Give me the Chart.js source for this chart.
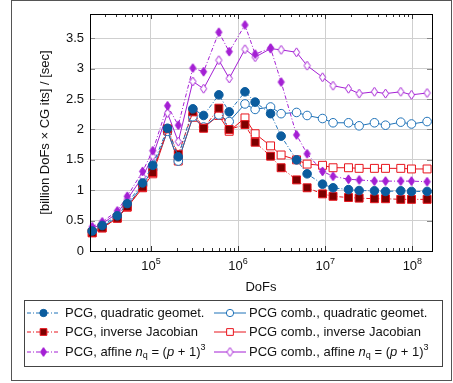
<!DOCTYPE html>
<html>
<head>
<meta charset="utf-8">
<script src="https://cdn.jsdelivr.net/npm/chart.js@4/dist/chart.umd.min.js"></script>
<style>
  html, body { margin: 0; padding: 0; background: #fff; }
  canvas { display: block; }
</style>
</head>
<body>
<canvas id="perf" width="453" height="383"></canvas>
<script>
// throughput per problem size, six solver variants
const dofs = [21200, 27600, 41100, 53500, 80300, 105000, 155000, 206000, 303000, 402000,
  602000, 791000, 1200000, 1570000, 2360000, 3120000, 4690000, 6200000, 9310000,
  12300000, 18500000, 24500000, 36700000, 49200000, 73600000, 97700000, 147600000];

const pcgQuad = [0.33, 0.42, 0.58, 0.78, 1.12, 1.41, 2.02, 1.55, 2.34, 2.23, 2.57, 2.29, 2.62, 2.45,
  2.26, 1.89, 1.50, 1.27, 1.10, 1.04, 1.01, 0.995, 0.99, 0.98, 0.99, 0.98, 0.98];
const combQuad = [0.32, 0.40, 0.55, 0.74, 1.08, 1.35, 1.97, 1.48, 2.21, 2.04, 2.24, 2.13, 2.42, 2.33,
  2.37, 2.26, 2.28, 2.23, 2.18, 2.11, 2.11, 2.06, 2.11, 2.07, 2.12, 2.09, 2.13];
const pcgInvJ = [0.30, 0.38, 0.54, 0.73, 1.05, 1.29, 2.01, 1.59, 2.29, 2.02, 2.35, 2.00, 2.08, 1.79,
  1.56, 1.37, 1.17, 1.04, 0.94, 0.90, 0.88, 0.87, 0.86, 0.86, 0.85, 0.85, 0.85];
const combInvJ = [0.30, 0.38, 0.54, 0.72, 1.04, 1.27, 1.98, 1.48, 2.20, 2.03, 2.23, 1.97, 2.19, 1.93,
  1.73, 1.58, 1.50, 1.43, 1.41, 1.37, 1.37, 1.36, 1.36, 1.36, 1.36, 1.35, 1.35];
const pcgAffine = [0.40, 0.48, 0.66, 0.90, 1.31, 1.65, 2.39, 2.07, 3.01, 2.95, 3.60, 3.28, 3.72, 3.24,
  3.34, 2.78, 1.91, 1.60, 1.31, 1.23, 1.18, 1.17, 1.15, 1.15, 1.15, 1.15, 1.14];
const combAffine = [0.37, 0.45, 0.62, 0.85, 1.22, 1.56, 2.27, 1.80, 2.79, 2.67, 3.14, 2.84, 3.32, 3.19,
  3.33, 3.31, 3.27, 3.05, 2.86, 2.72, 2.67, 2.59, 2.62, 2.59, 2.62, 2.57, 2.60];

const yTicks = [0, 0.5, 1, 1.5, 2, 2.5, 3, 3.5];
const xDecades = [5, 6, 7, 8];

const FONT = '"Liberation Sans", Arial, Helvetica, sans-serif';
const BLUE = '#0b5c9e', BLUE_L = '#1f72b8';
const RED = '#e8141c', DARKRED = '#7d0000';
const VIOLET = '#a41fd4';
const DASHDOT = [4, 2, 1, 2];

// pgfplots-like diamond marks (taller than wide)
function diamond(filled) {
  const c = document.createElement('canvas');
  c.width = 9; c.height = 11;
  const g = c.getContext('2d');
  g.beginPath();
  g.moveTo(4.5, 1); g.lineTo(7.6, 5.5); g.lineTo(4.5, 10); g.lineTo(1.4, 5.5); g.closePath();
  g.fillStyle = filled ? VIOLET : '#fff';
  g.fill();
  g.strokeStyle = VIOLET;
  g.lineWidth = 1;
  g.stroke();
  return c;
}

const toPts = arr => arr.map((v, i) => ({ x: dofs[i], y: v }));

const series = [
  { label: 'PCG, quadratic geomet.', data: pcgQuad, dash: DASHDOT,
    style: 'circle', radius: 4.3, fill: BLUE, edge: BLUE, lineColor: BLUE_L },
  { label: 'PCG, inverse Jacobian', data: pcgInvJ, dash: DASHDOT,
    style: 'rect', radius: 5.6, fill: DARKRED, edge: RED, lineColor: RED },
  { label: 'PCG, affine', data: pcgAffine, dash: DASHDOT,
    style: diamond(true), radius: 5, fill: VIOLET, edge: VIOLET, lineColor: VIOLET, math: true },
  { label: 'PCG comb., quadratic geomet.', data: combQuad, dash: [],
    style: 'circle', radius: 4.3, fill: '#fff', edge: BLUE_L, lineColor: BLUE_L },
  { label: 'PCG comb., inverse Jacobian', data: combInvJ, dash: [],
    style: 'rect', radius: 5.6, fill: '#fff', edge: RED, lineColor: RED },
  { label: 'PCG comb., affine', data: combAffine, dash: [],
    style: diamond(false), radius: 5, fill: '#fff', edge: VIOLET, lineColor: VIOLET, math: true }
];

const isDecade = v => Math.abs(Math.log10(v) - Math.round(Math.log10(v))) < 1e-6;

// text runs with italic / sub / superscript pieces
function drawRuns(ctx, x, y, runs) {
  runs.forEach(r => {
    const size = r.size || 13;
    ctx.font = (r.italic ? 'italic ' : '') + size + 'px ' + FONT;
    ctx.fillText(r.t, x, y + (r.dy || 0));
    x += ctx.measureText(r.t).width;
  });
  return x;
}

function labelRuns(s) {
  const runs = [{ t: s.label + ' ' }];
  if (s.math) {
    runs.push({ t: 'n', italic: true }, { t: 'q', size: 9, dy: 3 }, { t: ' = (' },
      { t: 'p', italic: true }, { t: ' + 1)' }, { t: '3', size: 9, dy: -5 });
  }
  return runs;
}

const framePlugin = {
  id: 'frame',
  beforeDatasetsDraw(chart) {
    const { ctx, chartArea: a, scales: { x, y } } = chart;
    ctx.save();
    ctx.lineWidth = 1;
    // x ticks, inside, top and bottom
    ctx.strokeStyle = '#333';
    for (let k = 4; k <= 8; k++) {
      for (let m = 1; m <= 9; m++) {
        const v = m * Math.pow(10, k);
        if (v < x.min || v > x.max) continue;
        const px = Math.round(x.getPixelForValue(v)) + 0.5;
        const len = m === 1 ? 5 : 3;
        ctx.beginPath();
        ctx.moveTo(px, a.bottom); ctx.lineTo(px, a.bottom - len);
        ctx.moveTo(px, a.top); ctx.lineTo(px, a.top + len);
        ctx.stroke();
      }
    }
    // y ticks on both sides
    ctx.strokeStyle = '#888';
    yTicks.forEach(v => {
      const py = Math.round(y.getPixelForValue(v)) + 0.5;
      ctx.beginPath();
      ctx.moveTo(a.left, py); ctx.lineTo(a.left + 5, py);
      ctx.moveTo(a.right, py); ctx.lineTo(a.right - 5, py);
      ctx.stroke();
    });
    ctx.restore();
  },
  afterDraw(chart) {
    const { ctx, chartArea: a, scales: { x } } = chart;
    ctx.save();
    // plot box
    ctx.strokeStyle = '#000';
    ctx.lineWidth = 1;
    ctx.strokeRect(Math.round(a.left) + 0.5, Math.round(a.top) + 0.5,
      Math.round(a.right - a.left), Math.round(a.bottom - a.top));

    // outer frame
    ctx.strokeStyle = '#555';
    ctx.strokeRect(11.5, 0.5, 440, 380);

    ctx.fillStyle = '#111';
    ctx.textBaseline = 'alphabetic';
    // decade labels 10^k
    xDecades.forEach(k => {
      const px = x.getPixelForValue(Math.pow(10, k));
      ctx.font = '13px ' + FONT;
      const w1 = ctx.measureText('10').width;
      ctx.font = '9px ' + FONT;
      const w2 = ctx.measureText(String(k)).width;
      drawRuns(ctx, px - (w1 + w2) / 2, 270, [{ t: '10' }, { t: String(k), size: 9, dy: -6 }]);
    });

    // axis titles
    ctx.font = '13px ' + FONT;
    ctx.textAlign = 'center';
    ctx.textBaseline = 'middle';
    ctx.fillText('DoFs', (a.left + a.right) / 2, 287);
    ctx.save();
    ctx.translate(45, (a.top + a.bottom) / 2);
    ctx.rotate(-Math.PI / 2);
    ctx.fillText('[billion DoFs \u00d7 CG its] / [sec]', 0, 0);
    ctx.restore();

    // legend, two columns in row order
    ctx.textAlign = 'left';
    ctx.strokeStyle = '#444';
    ctx.strokeRect(24.5, 300.5, 418, 66);
    const rowsY = [312.5, 331.5, 351.5];
    const cols = [{ x0: 27, x1: 60, tx: 65 }, { x0: 214, x1: 246, tx: 249 }];
    const order = [[0, 3], [1, 4], [2, 5]];
    order.forEach((pair, r) => {
      pair.forEach((si, c) => {
        const s = series[si], col = cols[c], yy = rowsY[r];
        ctx.save();
        ctx.strokeStyle = s.lineColor;
        ctx.lineWidth = 1;
        ctx.setLineDash(s.dash);
        ctx.beginPath();
        ctx.moveTo(col.x0, yy + 0.5); ctx.lineTo(col.x1, yy + 0.5);
        ctx.stroke();
        ctx.setLineDash([]);
        ctx.fillStyle = s.fill;
        ctx.strokeStyle = s.edge;
        ctx.lineWidth = 1;
        Chart.helpers.drawPoint(ctx, {
          pointStyle: s.style, radius: typeof s.style === 'string' ? s.radius * 0.85 : s.radius,
          borderWidth: 1, rotation: 0
        }, (col.x0 + col.x1) / 2, yy + 0.5);
        ctx.restore();
        ctx.fillStyle = '#111';
        ctx.textBaseline = 'middle';
        drawRuns(ctx, col.tx, yy + 1, labelRuns(s));
      });
    });
    ctx.restore();
  }
};

new Chart(document.getElementById('perf'), {
  type: 'line',
  data: {
    datasets: series.map(s => ({
      label: s.label,
      data: toPts(s.data),
      borderColor: s.lineColor,
      borderWidth: 1,
      borderDash: s.dash,
      pointStyle: s.style,
      pointRadius: s.radius,
      pointBackgroundColor: s.fill,
      pointBorderColor: s.edge,
      pointBorderWidth: 1,
      tension: 0,
      clip: false
    }))
  },
  options: {
    responsive: false,
    animation: false,
    devicePixelRatio: 1,
    layout: { padding: { left: 0, top: 14, right: 21, bottom: 0 } },
    plugins: { legend: { display: false }, tooltip: { enabled: false } },
    scales: {
      x: {
        type: 'logarithmic',
        min: 20000,
        max: 168000000,
        afterFit: s => { s.height = 132; },
        border: { display: false },
        ticks: { display: false },
        grid: {
          drawTicks: false,
          lineWidth: 1,
          color: ctx => (ctx.tick && isDecade(ctx.tick.value)) ? '#cfcfcf' : 'rgba(0,0,0,0)'
        }
      },
      y: {
        min: 0,
        max: 3.9,
        afterFit: s => { s.width = 90; },
        afterBuildTicks: s => { s.ticks = yTicks.map(v => ({ value: v })); },
        border: { display: false },
        ticks: {
          padding: 6,
          color: '#111',
          font: { family: FONT, size: 13 },
          callback: v => String(v)
        },
        grid: { drawTicks: false, color: '#cfcfcf', lineWidth: 1 }
      }
    }
  },
  plugins: [framePlugin]
});
</script>
</body>
</html>
